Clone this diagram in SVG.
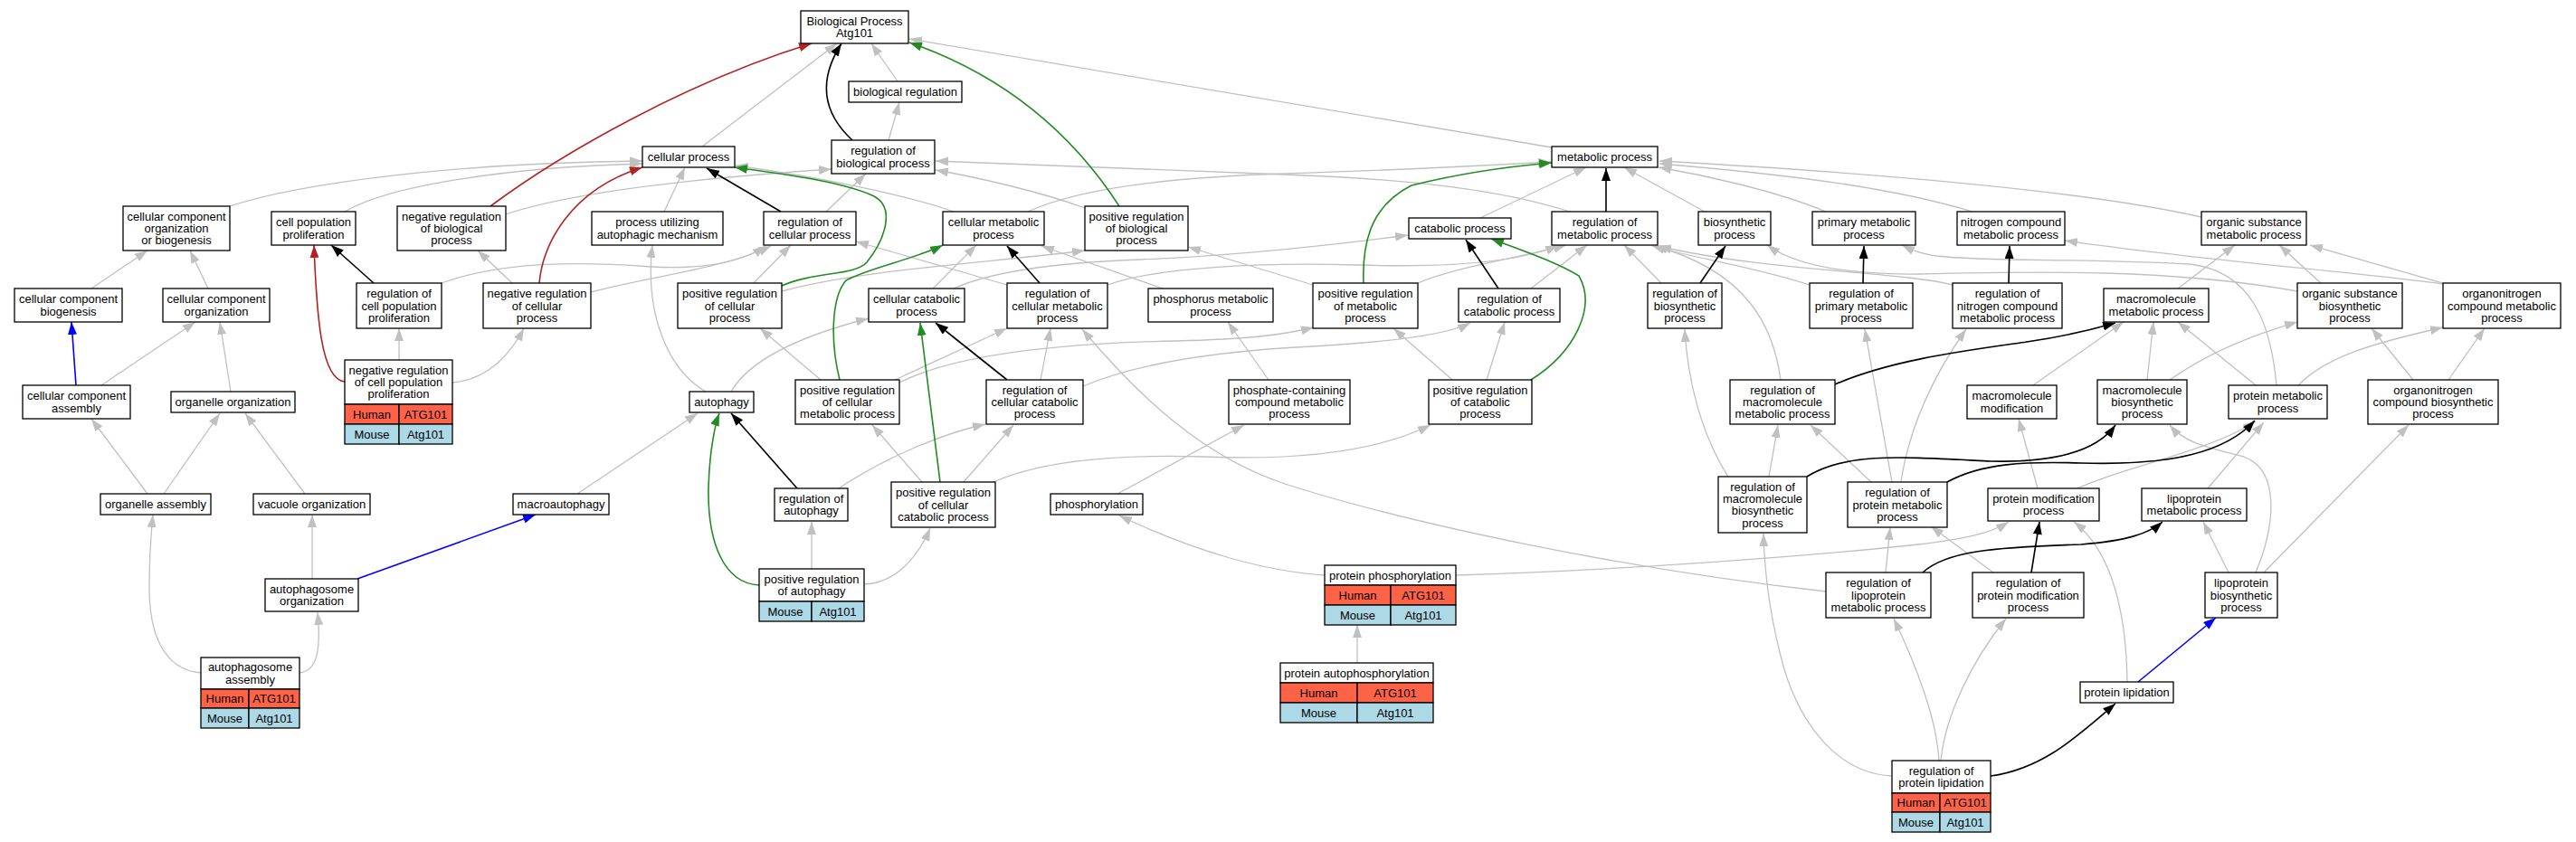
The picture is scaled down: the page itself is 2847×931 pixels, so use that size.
<svg xmlns="http://www.w3.org/2000/svg" width="2847" height="931" viewBox="0 0 2847 931">
<style>
.n{fill:#fff;stroke:#000;stroke-width:1.3}
.h{fill:#ff6347;stroke:#000;stroke-width:1.3}
.m{fill:#add8e6;stroke:#000;stroke-width:1.3}
text{font-family:"Liberation Sans",Arial,sans-serif;font-size:13px;text-anchor:middle;fill:#000}
.e{fill:none;stroke-width:1.3}
.g{stroke:#c0c0c0;marker-end:url(#ag)}
.k{stroke:#000;stroke-width:1.6;marker-end:url(#ak)}
.r{stroke:#b22222;stroke-width:1.6;marker-end:url(#ar)}
.v{stroke:#228b22;stroke-width:1.6;marker-end:url(#av)}
.b{stroke:#0000ff;stroke-width:1.6;marker-end:url(#ab)}
</style>
<defs>
<marker id="ag" viewBox="0 0 14 10" refX="14" refY="5" markerWidth="14" markerHeight="10" markerUnits="userSpaceOnUse" orient="auto"><path d="M0,0L14,5L0,10z" fill="#c0c0c0"/></marker>
<marker id="ak" viewBox="0 0 14 10" refX="14" refY="5" markerWidth="14" markerHeight="10" markerUnits="userSpaceOnUse" orient="auto"><path d="M0,0L14,5L0,10z" fill="#000"/></marker>
<marker id="ar" viewBox="0 0 14 10" refX="14" refY="5" markerWidth="14" markerHeight="10" markerUnits="userSpaceOnUse" orient="auto"><path d="M0,0L14,5L0,10z" fill="#b22222"/></marker>
<marker id="av" viewBox="0 0 14 10" refX="14" refY="5" markerWidth="14" markerHeight="10" markerUnits="userSpaceOnUse" orient="auto"><path d="M0,0L14,5L0,10z" fill="#228b22"/></marker>
<marker id="ab" viewBox="0 0 14 10" refX="14" refY="5" markerWidth="14" markerHeight="10" markerUnits="userSpaceOnUse" orient="auto"><path d="M0,0L14,5L0,10z" fill="#0000ff"/></marker>
</defs>
<rect width="2847" height="931" fill="#fff"/>
<g id="edges">
<path class="e g" d="M776,162L925,48"/>
<path class="e g" d="M992,90L963,48"/>
<path class="e g" d="M1715,163L1005,43"/>
<path class="e g" d="M982,155L994,113"/>
<path class="e g" d="M254,228C330,203 500,180 710,178"/>
<path class="e g" d="M381,234C430,205 560,185 710,181"/>
<path class="e g" d="M559,237C640,210 800,195 919,187"/>
<path class="e g" d="M101,319L163,277"/>
<path class="e g" d="M230,319L210,277"/>
<path class="e g" d="M488,313C560,287 650,290 720,295C780,298 820,290 846,272"/>
<path class="e g" d="M653,323C720,305 800,297 852,272"/>
<path class="e g" d="M566,313L528,277"/>
<path class="e g" d="M112,426L216,356"/>
<path class="e g" d="M255,433L243,356"/>
<path class="e g" d="M441,398L441,363"/>
<path class="e g" d="M500,423C540,420 565,390 579,363"/>
<path class="e g" d="M780,433C740,410 712,350 721,271"/>
<path class="e g" d="M734,234L757,185"/>
<path class="e g" d="M913,234L957,192"/>
<path class="e g" d="M1054,234C1000,215 900,195 813,183"/>
<path class="e g" d="M1113,315L946,267"/>
<path class="e g" d="M833,313L874,271"/>
<path class="e g" d="M864,322C950,298 1100,290 1199,277"/>
<path class="e g" d="M1199,230C1150,212 1080,196 1034,188"/>
<path class="e g" d="M1136,234C1200,205 1320,195 1420,192C1550,188 1660,182 1714,179"/>
<path class="e g" d="M1735,234C1660,210 1560,198 1420,193C1250,186 1100,180 1034,178"/>
<path class="e g" d="M1031,319L1079,271"/>
<path class="e g" d="M1054,319C1100,298 1180,290 1260,287C1380,282 1480,270 1556,260"/>
<path class="e g" d="M1224,315C1280,295 1400,290 1500,293C1600,296 1680,290 1722,271"/>
<path class="e g" d="M1285,319L1151,272"/>
<path class="e g" d="M1402,420L1357,356"/>
<path class="e g" d="M907,420L840,363"/>
<path class="e g" d="M989,420L1113,363"/>
<path class="e g" d="M994,423C1050,395 1150,380 1300,377C1380,375 1420,370 1452,362"/>
<path class="e g" d="M808,433C830,395 890,370 960,352"/>
<path class="e g" d="M1150,420L1161,363"/>
<path class="e g" d="M1197,427C1260,400 1350,388 1450,383C1540,378 1600,370 1625,357"/>
<path class="e g" d="M2018,654C1800,630 1560,580 1420,535C1330,505 1260,440 1196,364"/>
<path class="e g" d="M1098,533C1150,510 1230,502 1330,505C1450,510 1530,495 1581,470"/>
<path class="e g" d="M1019,533L964,470"/>
<path class="e g" d="M1065,533L1120,470"/>
<path class="e g" d="M927,540C980,505 1040,480 1089,469"/>
<path class="e g" d="M897,629L897,577"/>
<path class="e g" d="M955,646C990,645 1015,615 1028,584"/>
<path class="e g" d="M638,546L771,457"/>
<path class="e g" d="M1235,546L1375,470"/>
<path class="e g" d="M1464,636C1400,632 1320,610 1237,570"/>
<path class="e g" d="M1609,636C1800,630 2000,615 2120,602C2170,596 2200,590 2220,577"/>
<path class="e g" d="M1500,733L1500,691"/>
<path class="e g" d="M1636,241L1753,185"/>
<path class="e g" d="M1884,234L1795,185"/>
<path class="e g" d="M2018,234C1960,210 1880,193 1833,185"/>
<path class="e g" d="M2180,234C2100,210 2000,195 1834,181"/>
<path class="e g" d="M2433,240C2300,210 2050,190 1834,178"/>
<path class="e g" d="M1567,313C1610,295 1680,285 1731,271"/>
<path class="e g" d="M1451,315L1313,273"/>
<path class="e g" d="M1692,319L1754,271"/>
<path class="e g" d="M1605,420L1540,363"/>
<path class="e g" d="M1643,420L1663,356"/>
<path class="e g" d="M1836,313L1795,271"/>
<path class="e g" d="M2000,315C1940,295 1870,285 1826,272"/>
<path class="e g" d="M2158,315C2100,300 1950,300 1833,272"/>
<path class="e g" d="M1968,420C1960,360 1930,300 1829,272"/>
<path class="e g" d="M2539,322C2400,297 2250,300 2120,303C2030,304 1980,290 1953,271"/>
<path class="e g" d="M2516,426C2510,360 2490,300 2420,292C2300,285 2200,290 2140,283C2120,280 2110,275 2102,271"/>
<path class="e g" d="M1910,527C1880,480 1865,420 1862,364"/>
<path class="e g" d="M2091,533L2061,364"/>
<path class="e g" d="M2101,533C2110,470 2140,410 2173,364"/>
<path class="e g" d="M1955,527L1965,470"/>
<path class="e g" d="M2068,533L2001,470"/>
<path class="e g" d="M2407,319L2470,271"/>
<path class="e g" d="M2565,313L2519,271"/>
<path class="e g" d="M2700,313L2553,271"/>
<path class="e g" d="M2700,314C2600,300 2450,290 2282,266"/>
<path class="e g" d="M2247,426L2347,356"/>
<path class="e g" d="M2373,420L2380,356"/>
<path class="e g" d="M2398,420C2440,390 2490,370 2539,356"/>
<path class="e g" d="M2493,426L2407,356"/>
<path class="e g" d="M2540,426C2570,395 2620,380 2700,362"/>
<path class="e g" d="M2667,420L2621,363"/>
<path class="e g" d="M2706,420L2746,363"/>
<path class="e g" d="M2252,540L2231,463"/>
<path class="e g" d="M2296,540C2350,515 2440,500 2493,466"/>
<path class="e g" d="M2440,540L2502,467"/>
<path class="e g" d="M2493,633C2515,580 2520,520 2480,505C2440,495 2415,490 2398,470"/>
<path class="e g" d="M2502,633L2662,470"/>
<path class="e g" d="M2463,633L2435,577"/>
<path class="e g" d="M2203,633L2134,582"/>
<path class="e g" d="M2351,754C2350,680 2335,610 2292,577"/>
<path class="e g" d="M2145,841C2150,790 2180,730 2217,684"/>
<path class="e g" d="M2143,841C2140,790 2115,730 2093,684"/>
<path class="e g" d="M2091,858C2030,855 1990,800 1972,740C1955,680 1950,630 1949,590"/>
<path class="e g" d="M2084,633L2089,583"/>
<path class="e g" d="M163,546L101,463"/>
<path class="e g" d="M181,546L243,457"/>
<path class="e g" d="M337,546L271,457"/>
<path class="e g" d="M345,640L345,569"/>
<path class="e g" d="M222,744C180,740 165,700 165,650C165,610 167,590 169,569"/>
<path class="e g" d="M331,744C350,742 355,720 351,677"/>
<path class="e k" d="M942,155C915,130 900,95 930,48"/>
<path class="e k" d="M863,234L781,186"/>
<path class="e k" d="M413,313L366,271"/>
<path class="e k" d="M1149,313L1113,272"/>
<path class="e k" d="M1113,420L1034,357"/>
<path class="e k" d="M881,540L808,457"/>
<path class="e k" d="M1775,234L1775,186"/>
<path class="e k" d="M1656,319L1620,265"/>
<path class="e k" d="M1879,313L1907,272"/>
<path class="e k" d="M2059,313L2060,272"/>
<path class="e k" d="M2220,313L2221,272"/>
<path class="e k" d="M2028,425C2090,398 2170,388 2240,378C2290,371 2320,362 2338,357"/>
<path class="e k" d="M1997,527C2040,500 2100,505 2200,510C2280,512 2320,495 2338,470"/>
<path class="e k" d="M2152,533C2190,512 2240,510 2300,512C2400,515 2460,500 2492,465"/>
<path class="e k" d="M2245,633L2254,577"/>
<path class="e k" d="M2125,633C2150,610 2200,605 2300,602C2350,598 2375,590 2390,577"/>
<path class="e k" d="M2200,858C2260,850 2300,810 2338,778"/>
<path class="e r" d="M542,228C620,170 760,90 897,48"/>
<path class="e r" d="M596,313C600,270 630,210 710,185"/>
<path class="e r" d="M381,422C355,420 350,350 347,271"/>
<path class="e v" d="M1237,228C1180,140 1100,80 1005,47"/>
<path class="e v" d="M864,316C900,300 945,305 958,290C978,265 990,230 966,217C930,200 860,192 812,185"/>
<path class="e v" d="M928,420C918,380 918,330 935,310C960,296 1010,287 1042,271"/>
<path class="e v" d="M1507,313C1505,260 1520,225 1560,205C1620,190 1680,183 1715,180"/>
<path class="e v" d="M1692,420C1740,390 1765,340 1745,305C1720,290 1690,280 1648,264"/>
<path class="e v" d="M1039,533L1017,357"/>
<path class="e v" d="M839,647C800,645 782,600 783,540C784,500 790,470 795,457"/>
<path class="e b" d="M84,426L79,356"/>
<path class="e b" d="M395,640L592,569"/>
<path class="e b" d="M2363,754L2449,683"/>
</g>
<g id="n1"><rect class="n" x="885" y="12" width="119" height="36"/><text x="944.5" y="27.9">Biological Process</text><text x="944.5" y="41.2">Atg101</text></g>
<g id="n2"><rect class="n" x="938" y="90" width="125" height="23"/><text x="1000.5" y="106">biological regulation</text></g>
<g id="n3"><rect class="n" x="710" y="162" width="102" height="23"/><text x="761" y="178">cellular process</text></g>
<g id="n4"><rect class="n" x="919" y="155" width="114" height="37"/><text x="976" y="171.4">regulation of</text><text x="976" y="184.7">biological process</text></g>
<g id="n5"><rect class="n" x="1715" y="162" width="117" height="23"/><text x="1773.5" y="178">metabolic process</text></g>
<g id="n6"><rect class="n" x="136" y="228" width="118" height="49"/><text x="195" y="243.7">cellular component</text><text x="195" y="257">organization</text><text x="195" y="270.3">or biogenesis</text></g>
<g id="n7"><rect class="n" x="300" y="234" width="93" height="37"/><text x="346.5" y="250.4">cell population</text><text x="346.5" y="263.7">proliferation</text></g>
<g id="n8"><rect class="n" x="439" y="228" width="120" height="49"/><text x="499" y="243.7">negative regulation</text><text x="499" y="257">of biological</text><text x="499" y="270.3">process</text></g>
<g id="n9"><rect class="n" x="654" y="234" width="145" height="37"/><text x="726.5" y="250.4">process utilizing</text><text x="726.5" y="263.7">autophagic mechanism</text></g>
<g id="n10"><rect class="n" x="844" y="234" width="102" height="37"/><text x="895" y="250.4">regulation of</text><text x="895" y="263.7">cellular process</text></g>
<g id="n11"><rect class="n" x="1042" y="234" width="112" height="37"/><text x="1098" y="250.4">cellular metabolic</text><text x="1098" y="263.7">process</text></g>
<g id="n12"><rect class="n" x="1199" y="228" width="114" height="49"/><text x="1256" y="243.7">positive regulation</text><text x="1256" y="257">of biological</text><text x="1256" y="270.3">process</text></g>
<g id="n13"><rect class="n" x="1557" y="241" width="113" height="23"/><text x="1613.5" y="257">catabolic process</text></g>
<g id="n14"><rect class="n" x="1715" y="234" width="117" height="37"/><text x="1773.5" y="250.4">regulation of</text><text x="1773.5" y="263.7">metabolic process</text></g>
<g id="n15"><rect class="n" x="1877" y="234" width="80" height="37"/><text x="1917" y="250.4">biosynthetic</text><text x="1917" y="263.7">process</text></g>
<g id="n16"><rect class="n" x="2003" y="234" width="114" height="37"/><text x="2060" y="250.4">primary metabolic</text><text x="2060" y="263.7">process</text></g>
<g id="n17"><rect class="n" x="2163" y="234" width="119" height="37"/><text x="2222.5" y="250.4">nitrogen compound</text><text x="2222.5" y="263.7">metabolic process</text></g>
<g id="n18"><rect class="n" x="2433" y="234" width="116" height="37"/><text x="2491" y="250.4">organic substance</text><text x="2491" y="263.7">metabolic process</text></g>
<g id="n19"><rect class="n" x="16" y="319" width="119" height="37"/><text x="75.5" y="335.4">cellular component</text><text x="75.5" y="348.7">biogenesis</text></g>
<g id="n20"><rect class="n" x="180" y="319" width="118" height="37"/><text x="239" y="335.4">cellular component</text><text x="239" y="348.7">organization</text></g>
<g id="n21"><rect class="n" x="394" y="313" width="94" height="50"/><text x="441" y="329.2">regulation of</text><text x="441" y="342.5">cell population</text><text x="441" y="355.8">proliferation</text></g>
<g id="n22"><rect class="n" x="534" y="313" width="119" height="50"/><text x="593.5" y="329.2">negative regulation</text><text x="593.5" y="342.5">of cellular</text><text x="593.5" y="355.8">process</text></g>
<g id="n23"><rect class="n" x="749" y="313" width="115" height="50"/><text x="806.5" y="329.2">positive regulation</text><text x="806.5" y="342.5">of cellular</text><text x="806.5" y="355.8">process</text></g>
<g id="n24"><rect class="n" x="960" y="319" width="106" height="37"/><text x="1013" y="335.4">cellular catabolic</text><text x="1013" y="348.7">process</text></g>
<g id="n25"><rect class="n" x="1113" y="313" width="111" height="50"/><text x="1168.5" y="329.2">regulation of</text><text x="1168.5" y="342.5">cellular metabolic</text><text x="1168.5" y="355.8">process</text></g>
<g id="n26"><rect class="n" x="1269" y="319" width="138" height="37"/><text x="1338" y="335.4">phosphorus metabolic</text><text x="1338" y="348.7">process</text></g>
<g id="n27"><rect class="n" x="1451" y="313" width="116" height="50"/><text x="1509" y="329.2">positive regulation</text><text x="1509" y="342.5">of metabolic</text><text x="1509" y="355.8">process</text></g>
<g id="n28"><rect class="n" x="1612" y="319" width="112" height="37"/><text x="1668" y="335.4">regulation of</text><text x="1668" y="348.7">catabolic process</text></g>
<g id="n29"><rect class="n" x="1821" y="313" width="82" height="50"/><text x="1862" y="329.2">regulation of</text><text x="1862" y="342.5">biosynthetic</text><text x="1862" y="355.8">process</text></g>
<g id="n30"><rect class="n" x="2000" y="313" width="114" height="50"/><text x="2057" y="329.2">regulation of</text><text x="2057" y="342.5">primary metabolic</text><text x="2057" y="355.8">process</text></g>
<g id="n31"><rect class="n" x="2158" y="313" width="121" height="50"/><text x="2218.5" y="329.2">regulation of</text><text x="2218.5" y="342.5">nitrogen compound</text><text x="2218.5" y="355.8">metabolic process</text></g>
<g id="n32"><rect class="n" x="2325" y="319" width="116" height="37"/><text x="2383" y="335.4">macromolecule</text><text x="2383" y="348.7">metabolic process</text></g>
<g id="n33"><rect class="n" x="2539" y="313" width="116" height="50"/><text x="2597" y="329.2">organic substance</text><text x="2597" y="342.5">biosynthetic</text><text x="2597" y="355.8">process</text></g>
<g id="n34"><rect class="n" x="2700" y="313" width="130" height="50"/><text x="2765" y="329.2">organonitrogen</text><text x="2765" y="342.5">compound metabolic</text><text x="2765" y="355.8">process</text></g>
<g id="n35"><rect class="n" x="25" y="426" width="119" height="37"/><text x="84.5" y="442.4">cellular component</text><text x="84.5" y="455.7">assembly</text></g>
<g id="n36"><rect class="n" x="189" y="433" width="137" height="23"/><text x="257.5" y="449">organelle organization</text></g>
<g id="n37"><rect class="n" x="381" y="398" width="119" height="49"/><text x="440.5" y="413.7">negative regulation</text><text x="440.5" y="427">of cell population</text><text x="440.5" y="440.3">proliferation</text>
<rect class="h" x="381" y="447" width="60" height="22"/><rect class="h" x="441" y="447" width="59" height="22"/><rect class="m" x="381" y="469" width="60" height="22"/><rect class="m" x="441" y="469" width="59" height="22"/>
<text x="411" y="462.5">Human</text><text x="470.5" y="462.5">ATG101</text><text x="411" y="484.5">Mouse</text><text x="470.5" y="484.5">Atg101</text></g>
<g id="n38"><rect class="n" x="762" y="433" width="71" height="23"/><text x="797.5" y="449">autophagy</text></g>
<g id="n39"><rect class="n" x="879" y="420" width="115" height="49"/><text x="936.5" y="435.7">positive regulation</text><text x="936.5" y="449">of cellular</text><text x="936.5" y="462.3">metabolic process</text></g>
<g id="n40"><rect class="n" x="1090" y="420" width="107" height="49"/><text x="1143.5" y="435.7">regulation of</text><text x="1143.5" y="449">cellular catabolic</text><text x="1143.5" y="462.3">process</text></g>
<g id="n41"><rect class="n" x="1358" y="420" width="134" height="49"/><text x="1425" y="435.7">phosphate-containing</text><text x="1425" y="449">compound metabolic</text><text x="1425" y="462.3">process</text></g>
<g id="n42"><rect class="n" x="1579" y="420" width="114" height="49"/><text x="1636" y="435.7">positive regulation</text><text x="1636" y="449">of catabolic</text><text x="1636" y="462.3">process</text></g>
<g id="n43"><rect class="n" x="1912" y="420" width="116" height="49"/><text x="1970" y="435.7">regulation of</text><text x="1970" y="449">macromolecule</text><text x="1970" y="462.3">metabolic process</text></g>
<g id="n44"><rect class="n" x="2174" y="426" width="99" height="37"/><text x="2223.5" y="442.4">macromolecule</text><text x="2223.5" y="455.7">modification</text></g>
<g id="n45"><rect class="n" x="2318" y="420" width="99" height="49"/><text x="2367.5" y="435.7">macromolecule</text><text x="2367.5" y="449">biosynthetic</text><text x="2367.5" y="462.3">process</text></g>
<g id="n46"><rect class="n" x="2463" y="426" width="109" height="37"/><text x="2517.5" y="442.4">protein metabolic</text><text x="2517.5" y="455.7">process</text></g>
<g id="n47"><rect class="n" x="2617" y="420" width="144" height="49"/><text x="2689" y="435.7">organonitrogen</text><text x="2689" y="449">compound biosynthetic</text><text x="2689" y="462.3">process</text></g>
<g id="n48"><rect class="n" x="111" y="546" width="122" height="23"/><text x="172" y="562">organelle assembly</text></g>
<g id="n49"><rect class="n" x="280" y="546" width="129" height="23"/><text x="344.5" y="562">vacuole organization</text></g>
<g id="n50"><rect class="n" x="567" y="546" width="106" height="23"/><text x="620" y="562">macroautophagy</text></g>
<g id="n51"><rect class="n" x="856" y="540" width="81" height="36"/><text x="896.5" y="555.9">regulation of</text><text x="896.5" y="569.2">autophagy</text></g>
<g id="n52"><rect class="n" x="985" y="533" width="115" height="50"/><text x="1042.5" y="549.2">positive regulation</text><text x="1042.5" y="562.5">of cellular</text><text x="1042.5" y="575.8">catabolic process</text></g>
<g id="n53"><rect class="n" x="1161" y="546" width="102" height="23"/><text x="1212" y="562">phosphorylation</text></g>
<g id="n54"><rect class="n" x="1899" y="527" width="98" height="62"/><text x="1948" y="542.6">regulation of</text><text x="1948" y="555.9">macromolecule</text><text x="1948" y="569.2">biosynthetic</text><text x="1948" y="582.5">process</text></g>
<g id="n55"><rect class="n" x="2042" y="533" width="110" height="50"/><text x="2097" y="549.2">regulation of</text><text x="2097" y="562.5">protein metabolic</text><text x="2097" y="575.8">process</text></g>
<g id="n56"><rect class="n" x="2197" y="540" width="123" height="36"/><text x="2258.5" y="555.9">protein modification</text><text x="2258.5" y="569.2">process</text></g>
<g id="n57"><rect class="n" x="2367" y="540" width="116" height="36"/><text x="2425" y="555.9">lipoprotein</text><text x="2425" y="569.2">metabolic process</text></g>
<g id="n58"><rect class="n" x="839" y="629" width="116" height="36"/><text x="897" y="644.9">positive regulation</text><text x="897" y="658.2">of autophagy</text>
<rect class="m" x="839" y="665" width="58" height="22"/><rect class="m" x="897" y="665" width="58" height="22"/><text x="868" y="680.5">Mouse</text><text x="926" y="680.5">Atg101</text></g>
<g id="n59"><rect class="n" x="1464" y="625" width="145" height="22"/><text x="1536.5" y="640.5">protein phosphorylation</text>
<rect class="h" x="1464" y="647" width="73" height="22"/><rect class="h" x="1537" y="647" width="72" height="22"/><rect class="m" x="1464" y="669" width="73" height="22"/><rect class="m" x="1537" y="669" width="72" height="22"/>
<text x="1500.5" y="662.5">Human</text><text x="1573" y="662.5">ATG101</text><text x="1500.5" y="684.5">Mouse</text><text x="1573" y="684.5">Atg101</text></g>
<g id="n60"><rect class="n" x="2018" y="633" width="116" height="50"/><text x="2076" y="649.2">regulation of</text><text x="2076" y="662.5">lipoprotein</text><text x="2076" y="675.8">metabolic process</text></g>
<g id="n61"><rect class="n" x="2180" y="633" width="123" height="50"/><text x="2241.5" y="649.2">regulation of</text><text x="2241.5" y="662.5">protein modification</text><text x="2241.5" y="675.8">process</text></g>
<g id="n62"><rect class="n" x="2437" y="633" width="80" height="50"/><text x="2477" y="649.2">lipoprotein</text><text x="2477" y="662.5">biosynthetic</text><text x="2477" y="675.8">process</text></g>
<g id="n63"><rect class="n" x="293" y="640" width="103" height="36"/><text x="344.5" y="655.9">autophagosome</text><text x="344.5" y="669.2">organization</text></g>
<g id="n64"><rect class="n" x="222" y="727" width="109" height="35"/><text x="276.5" y="742.4">autophagosome</text><text x="276.5" y="755.7">assembly</text>
<rect class="h" x="222" y="762" width="53" height="21"/><rect class="h" x="275" y="762" width="56" height="21"/><rect class="m" x="222" y="783" width="53" height="22"/><rect class="m" x="275" y="783" width="56" height="22"/>
<text x="248.5" y="777">Human</text><text x="303" y="777">ATG101</text><text x="248.5" y="798.5">Mouse</text><text x="303" y="798.5">Atg101</text></g>
<g id="n65"><rect class="n" x="1415" y="733" width="169" height="22"/><text x="1499.5" y="748.5">protein autophosphorylation</text>
<rect class="h" x="1415" y="755" width="85" height="22"/><rect class="h" x="1500" y="755" width="84" height="22"/><rect class="m" x="1415" y="777" width="85" height="22"/><rect class="m" x="1500" y="777" width="84" height="22"/>
<text x="1457.5" y="770.5">Human</text><text x="1542" y="770.5">ATG101</text><text x="1457.5" y="792.5">Mouse</text><text x="1542" y="792.5">Atg101</text></g>
<g id="n66"><rect class="n" x="2299" y="754" width="103" height="23"/><text x="2350.5" y="770">protein lipidation</text></g>
<g id="n67"><rect class="n" x="2091" y="841" width="109" height="36"/><text x="2145.5" y="856.9">regulation of</text><text x="2145.5" y="870.2">protein lipidation</text>
<rect class="h" x="2091" y="877" width="53" height="21"/><rect class="h" x="2144" y="877" width="56" height="21"/><rect class="m" x="2091" y="898" width="53" height="22"/><rect class="m" x="2144" y="898" width="56" height="22"/>
<text x="2117.5" y="892">Human</text><text x="2172" y="892">ATG101</text><text x="2117.5" y="913.5">Mouse</text><text x="2172" y="913.5">Atg101</text></g>
</svg>
